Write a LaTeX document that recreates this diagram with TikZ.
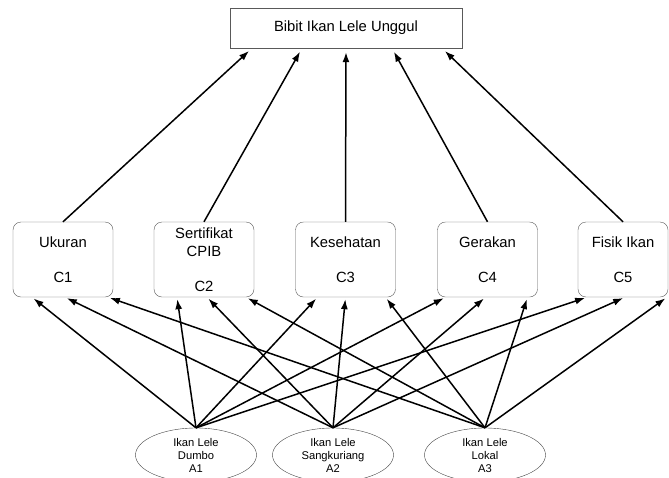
\documentclass[tikz,border=0pt]{standalone}
\usepackage{fontspec}
\setmainfont{Liberation Sans}
\usetikzlibrary{shapes.geometric,arrows.meta}

\tikzset{
  goal/.style={draw=black!65,minimum width=232pt,minimum height=40pt,font=\fontsize{14.8}{17.5}\selectfont},
  crit/.style={draw=black!65,rounded corners=8pt,minimum width=100pt,minimum height=75pt,align=center,font=\fontsize{14.8}{17.5}\selectfont},
  alt/.style={draw=black!75,ellipse,minimum width=121pt,minimum height=54pt,inner sep=-3pt,align=center,font=\fontsize{11.2}{13}\selectfont},
  link/.style={-{Latex[length=10pt,width=7pt]},line width=1.5pt}
}

\begin{document}
\begin{tikzpicture}[x=1pt,y=-1pt]
  \useasboundingbox (0,0) rectangle (669,477);

  \node (goal) at (346,28) [goal]{Bibit Ikan Lele Unggul};

  % kriteria
  \node (c1) at (63,259.5) [crit]{Ukuran\\[17.5pt]C1};
  \node (c2) at (204,259.5) [crit]{Sertifikat\\CPIB\\[17.5pt]C2};
  \node (c3) at (345.5,259.5) [crit]{Kesehatan\\[17.5pt]C3};
  \node (c4) at (487.5,259.5) [crit]{Gerakan\\[17.5pt]C4};
  \node (c5) at (623,259.5) [crit,minimum width=90pt]{Fisik Ikan\\[17.5pt]C5};

  % alternatif
  \node (a1) at (196,455) [alt]{Ikan Lele\\Dumbo\\A1};
  \node (a2) at (333,455) [alt]{Ikan Lele\\Sangkuriang\\A2};
  \node (a3) at (485,455) [alt]{Ikan Lele\\Lokal\\A3};

  \foreach \c/\s in {c1/-94,c2/-44,c3/0,c4/46,c5/96}  {
    \draw [link,shorten >=4pt] (\c.north) -- ([xshift=\s pt]goal.south);
  }

  \foreach \c/\p/\q/\r in {c1/-31/2/45,c2/-27/3/42,c3/-28/0/40,c4/-42/-2/40,c5/-36/2/44}  {
    \draw [link,shorten >=2pt] (a1.north) -- ([xshift=\p pt]\c.south);
    \draw [link,shorten >=2pt] (a2.north) -- ([xshift=\q pt]\c.south);
    \draw [link,shorten >=2pt] (a3.north) -- ([xshift=\r pt]\c.south);
  }
\end{tikzpicture}
\end{document}
